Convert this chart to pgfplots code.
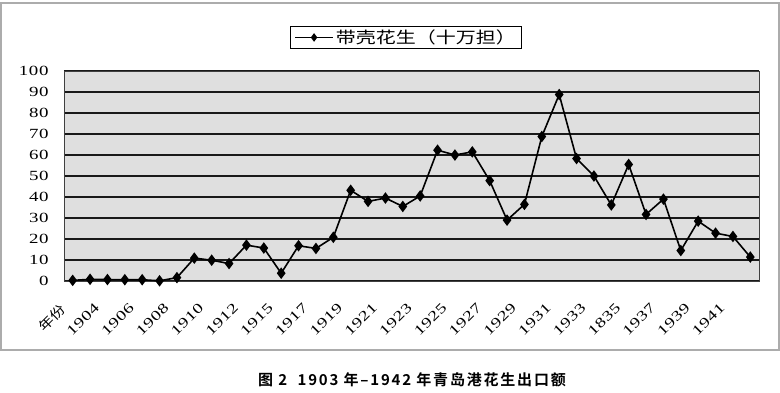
\documentclass[border=0pt]{standalone}
\usepackage{pgfplots}
\pgfplotsset{compat=1.18}
\usepackage{fontspec}
\setmainfont{Liberation Serif}
\newfontfamily\numfont[FakeStretch=1.35,LetterSpace=4]{Liberation Serif}
\newfontfamily\cjk[FakeStretch=1.2]{Noto Sans CJK SC}
\newfontfamily\cjkl[FakeStretch=1.25]{Noto Sans CJK SC}
\newfontfamily\cjkcap[LetterSpace=12]{Noto Sans CJK SC Bold}
\begin{document}
\begin{tikzpicture}[x=1pt,y=1pt]
\path[use as bounding box] (0,0) rectangle (780,392);
\draw[gray!65, line width=1.2pt] (1,42) rectangle (779,389);
\begin{axis}[
  at={(64pt,111pt)}, anchor=south west,
  scale only axis, width=695pt, height=210pt,
  xmin=-0.5, xmax=39.5, ymin=0, ymax=100,
  axis background/.style={fill=gray!25},
  axis line style={black!75, line width=0.9pt},
  ytick={0,10,...,100},
  yticklabels={0,10,20,30,40,50,60,70,80,90,100},
  ymajorgrids,
  major grid style={black!90, line width=1.2pt},
  ytick style={draw=none},
  yticklabel style={font=\numfont\fontsize{14}{16}\selectfont, xshift=-12pt},
  xtick={0,2,...,38},
  xticklabels={{\cjk\fontsize{13}{15}\selectfont 年份},1904,1906,1908,1910,1912,1915,1917,1919,1921,1923,1925,1927,1929,1931,1933,1835,1937,1939,1941},
  xtick style={draw=none},
  minor xtick={-0.5,0.5,...,39.5},
  minor tick length=5pt,
  tick align=inside,
  minor x tick style={black, line width=0.8pt},
  xticklabel style={font=\numfont\fontsize{14}{16}\selectfont, xshift=-14pt, yshift=-21pt, rotate=45, anchor=north east, inner sep=0pt},
  legend style={at={(0.325,1.105)}, anchor=south west, draw=black, line width=0.8pt, fill=white,
    font=\cjkl\fontsize{16}{18}\selectfont, inner xsep=4pt, inner ysep=1.5pt},
  legend image code/.code={\draw[#1, mark repeat=2, mark phase=2, mark size=3pt] plot coordinates {(0pt,0pt) (19pt,0pt) (38pt,0pt)};},
]
\addplot[black, line width=1.6pt, mark=diamond*, mark size=4.5pt, mark options={solid}] coordinates {
(0,0.3) (1,0.8) (2,0.7) (3,0.6) (4,0.6) (5,0.1) (6,1.6) (7,10.9) (8,9.9) (9,8.3)
(10,17.1) (11,15.7) (12,3.7) (13,16.8) (14,15.5) (15,20.8) (16,43.2) (17,37.9) (18,39.5) (19,35.5)
(20,40.5) (21,62.3) (22,60.0) (23,61.5) (24,47.8) (25,29.0) (26,36.5) (27,68.8) (28,88.8) (29,58.3)
(30,50.0) (31,36.2) (32,55.5) (33,31.7) (34,39.0) (35,14.5) (36,28.5) (37,22.8) (38,21.2) (39,11.4)
};
\addlegendentry{带壳花生（十万担）}
\end{axis}
\node[font=\cjkcap\fontsize{15}{17}\selectfont] at (412,12) {图 2\ \ 1903 年–1942 年青岛港花生出口额};
\end{tikzpicture}
\end{document}
